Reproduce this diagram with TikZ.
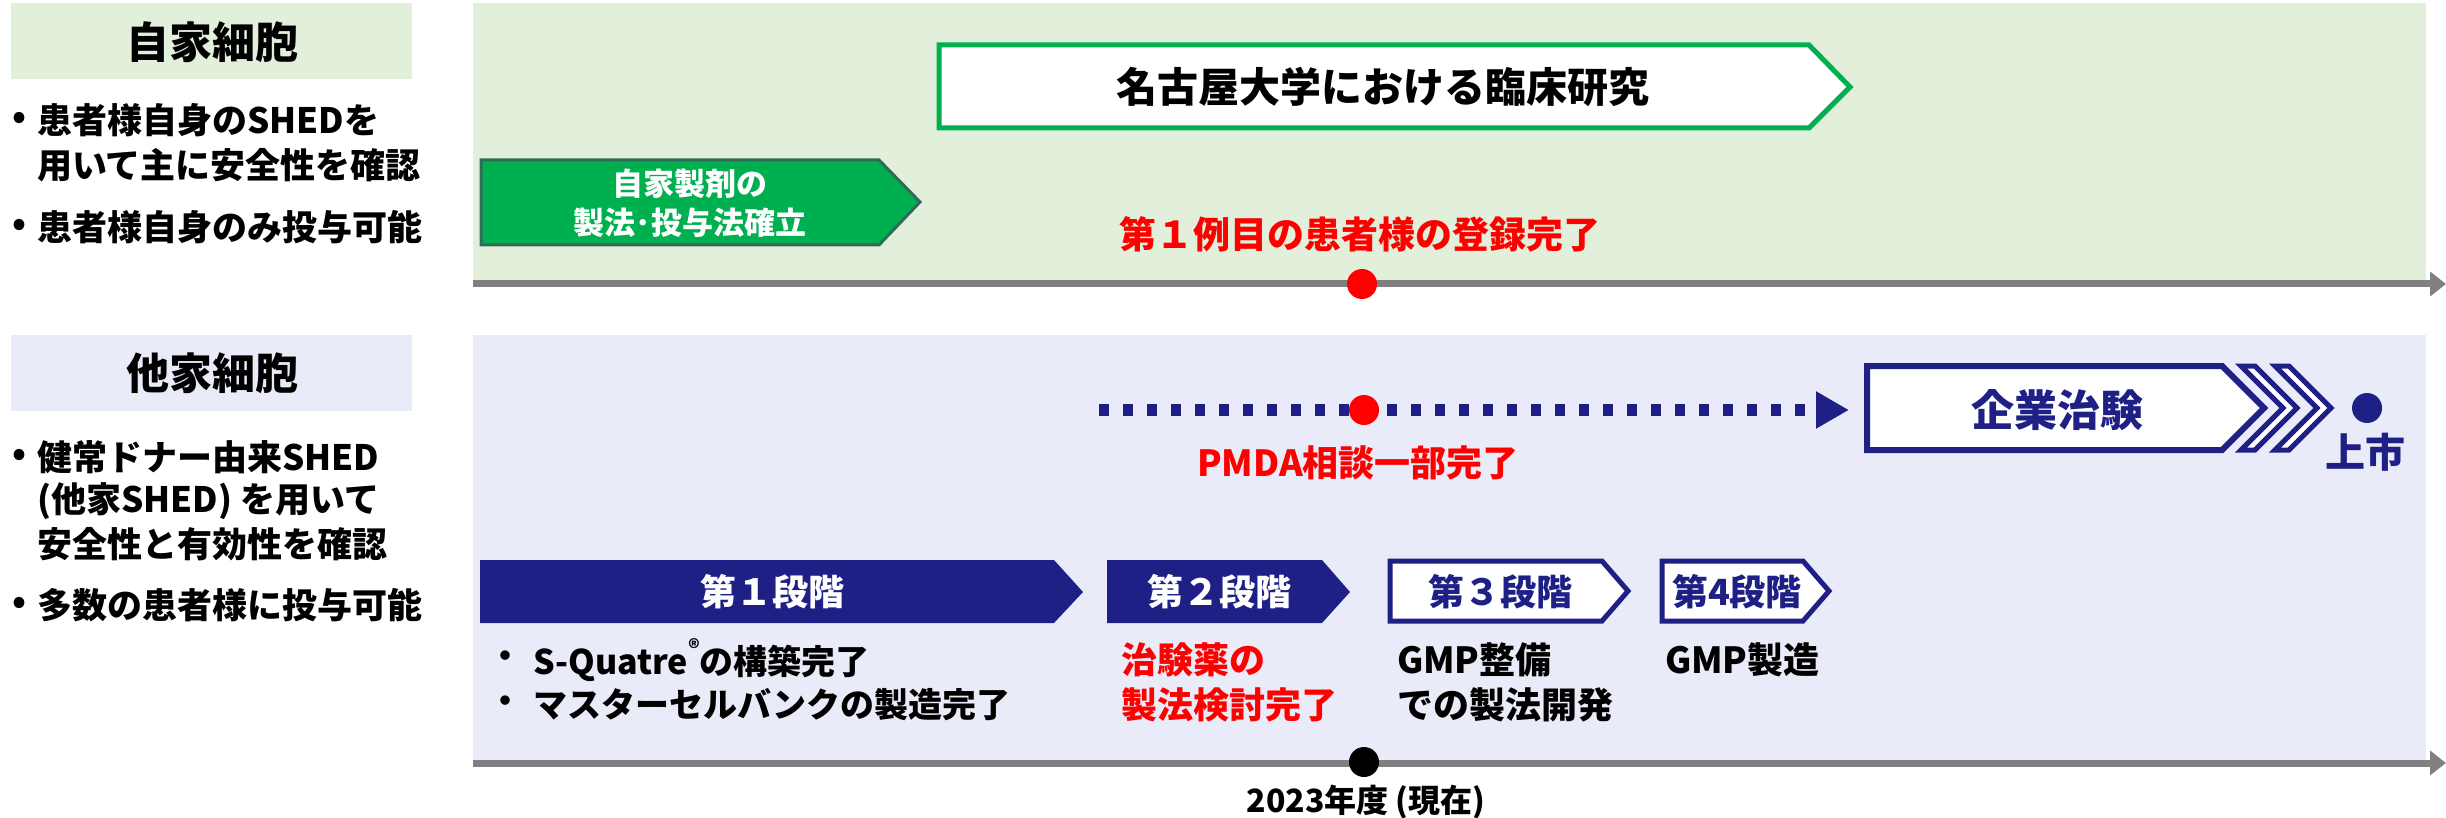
\documentclass[tikz,border=0pt]{standalone}
\usepackage{fontspec}
\setmainfont{Noto Sans CJK JP}
\usetikzlibrary{arrows.meta}
\definecolor{bggreen}{HTML}{E2EFDA}
\definecolor{bgblue}{HTML}{EAEBF8}
\definecolor{navy}{HTML}{1F2086}
\definecolor{okgreen}{HTML}{00B050}
\definecolor{darkteal}{HTML}{2F6B57}
\definecolor{axisgray}{HTML}{808080}
\newcommand\fsz[1]{\fontsize{#1}{#1}\selectfont\bfseries}
\begin{document}
\begin{tikzpicture}[x=0.5pt,y=-0.5pt,
  txt/.style={inner sep=0pt, outer sep=0pt},
  hdr/.style={txt, font=\fsz{21.5pt}},
  lbul/.style={txt, anchor=west, font=\fsz{17.5pt}},
  bdot/.style={txt, font=\fsz{17.5pt}},
  stg/.style={txt, font=\fsz{18pt}},
  sub/.style={txt, anchor=west, font=\fsz{18pt}},
  subb/.style={txt, anchor=west, font=\fsz{17pt}},
  dot/.style={circle, inner sep=0pt, minimum size=15pt},
  axis/.style={axisgray, line width=3.5pt, -{Triangle[length=8pt,width=12pt]}},
]
\useasboundingbox (0,0) rectangle (2446,818);
% backgrounds
\fill[bggreen] (473,3) rectangle (2426,284);
\fill[bgblue] (473,335) rectangle (2426,763);
\fill[bggreen] (11,3) rectangle (412,79);
\fill[bgblue] (11,335) rectangle (412,411);
% axes
\coordinate (a1s) at (473,284); \coordinate (a1e) at (2446,284);
\coordinate (a2s) at (473,763); \coordinate (a2e) at (2446,763);
\draw[axis] (a1s) -- (a1e);
\draw[axis] (a2s) -- (a2e);
% left headers
\node[hdr] (h1) at (212,42) {自家細胞};
\node[hdr] (h2) at (212,373) {他家細胞};
% left bullets top
\node[bdot] (b1) at (19,120) {•};
\node[lbul] (t1a) at (37,120) {患者様自身のSHEDを};
\node[lbul] (t1b) at (37,165) {用いて主に安全性を確認};
\node[bdot] (b2) at (19,227) {•};
\node[lbul] (t2) at (37,227) {患者様自身のみ投与可能};
% left bullets bottom
\node[bdot] (b3) at (19,457) {•};
\node[lbul] (t3a) at (37,457) {健常ドナー由来SHED};
\node[lbul] (t3b) at (37,501) {(他家SHED) を用いて};
\node[lbul] (t3c) at (37,544) {安全性と有効性を確認};
\node[bdot] (b4) at (19,605) {•};
\node[lbul] (t4) at (37,605) {多数の患者様に投与可能};
% top row
\draw[darkteal, fill=okgreen, line width=1.5pt] (481,160) -- (879,160) -- (920,202) -- (879,245) -- (481,245) -- cycle;
\node[txt, white, font=\fsz{15.5pt}] (g1) at (690,184) {自家製剤の};
\node[txt, white, font=\fsz{15.5pt}] (g2) at (690,223) {製法･投与法確立};
\draw[okgreen, fill=white, line width=2.5pt] (939,45) -- (1809,45) -- (1850,87) -- (1809,128) -- (939,128) -- cycle;
\node[txt, font=\fsz{20.5pt}] (nag) at (1383,87) {名古屋大学における臨床研究};
\node[txt, red, font=\fsz{18.5pt}] (r1) at (1360,234) {第１例目の患者様の登録完了};
\node[dot, fill=red] (d1) at (1362,284) {};
% dotted arrow
\coordinate (ds) at (1099,410); \coordinate (de) at (1849,410);
\draw[navy, line width=6pt, dash pattern=on 5pt off 7pt, -{Triangle[length=16.5pt,width=17.5pt]}] (ds) -- (de);
\node[dot, fill=red] (d2) at (1364,410) {};
\node[txt, red, font=\fsz{18pt}] (pmda) at (1358,463) {PMDA相談一部完了};
% company trial
\draw[navy, fill=white, line width=3pt] (1867,366) -- (2222,366) -- (2264,408) -- (2222,450) -- (1867,450) -- cycle;
\draw[navy, fill=white, line width=2.5pt] (2241,366) -- (2255,366) -- (2297,408) -- (2255,450) -- (2241,450) -- (2283,408) -- cycle;
\draw[navy, fill=white, line width=2.5pt] (2275,366) -- (2289,366) -- (2331,408) -- (2289,450) -- (2275,450) -- (2317,408) -- cycle;
\node[txt, navy, font=\fsz{21.5pt}] (kig) at (2057,410) {企業治験};
\node[dot, fill=navy] (d3) at (2367,408) {};
\node[txt, navy, font=\fsz{20pt}] (jo) at (2365,452) {上市};
% stages
\fill[navy] (480,560) -- (1054,560) -- (1083,592) -- (1054,623) -- (480,623) -- cycle;
\node[stg, white] (s1) at (772,592) {第１段階};
\fill[navy] (1107,560) -- (1322,560) -- (1350,592) -- (1322,623) -- (1107,623) -- cycle;
\node[stg, white] (s2) at (1219,592) {第２段階};
\draw[navy, fill=white, line width=2.5pt] (1390,561) -- (1602,561) -- (1628,591) -- (1602,621) -- (1390,621) -- cycle;
\node[stg, navy] (s3) at (1500,592) {第３段階};
\draw[navy, fill=white, line width=2.5pt] (1662,561) -- (1803,561) -- (1829,591) -- (1803,621) -- (1662,621) -- cycle;
\node[stg, navy] (s4) at (1737,592) {第4段階};
% stage notes
\node[txt, font=\fsz{17pt}] (bb1) at (505,660) {・};
\node[subb] (n1a) at (533,660) {S-Quatre\raisebox{0.55em}{\fontsize{11pt}{11pt}\selectfont ®}の構築完了};
\node[txt, font=\fsz{17pt}] (bb2) at (505,705) {・};
\node[subb] (n1b) at (533,705) {マスターセルバンクの製造完了};
\node[sub, red] (n2a) at (1121,660) {治験薬の};
\node[sub, red] (n2b) at (1121,705) {製法検討完了};
\node[sub] (n3a) at (1397,660) {GMP整備};
\node[sub] (n3b) at (1397,705) {での製法開発};
\node[sub] (n4) at (1665,660) {GMP製造};
% now
\node[dot, fill=black] (d4) at (1364,762) {};
\node[txt, font=\fsz{16pt}] (now) at (1366,802) {2023年度 (現在)};
\end{tikzpicture}
\end{document}
